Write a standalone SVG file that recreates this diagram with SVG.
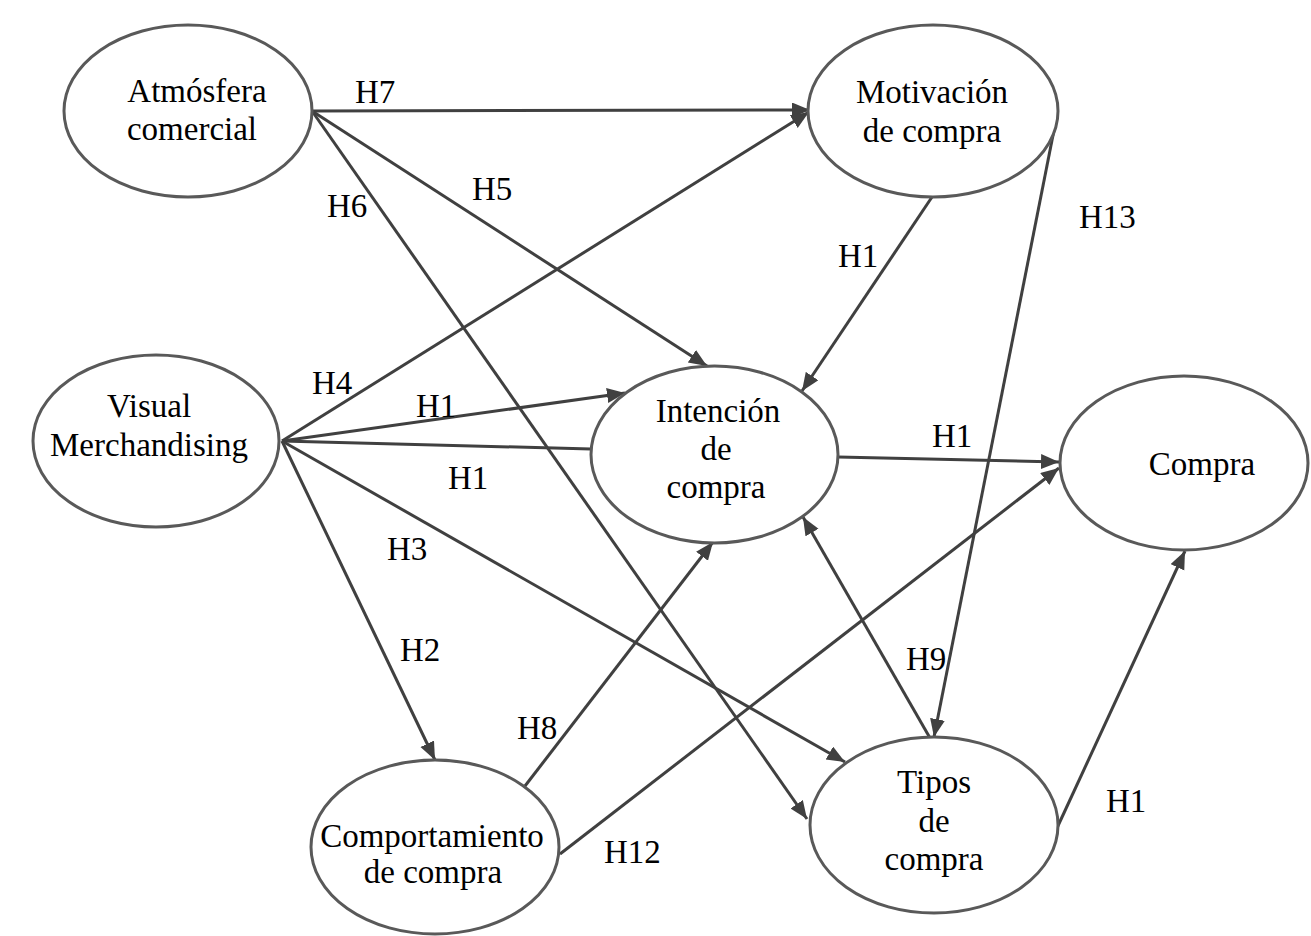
<svg xmlns="http://www.w3.org/2000/svg" width="1311" height="936" viewBox="0 0 1311 936">
<style>
.node ellipse{fill:#fff;stroke:#595959;stroke-width:3}
.node text,.lbl{font-family:"Liberation Serif","Times New Roman",serif;font-size:33px;fill:#000;text-anchor:middle}
.lbl{text-anchor:start}
.edges line{stroke:#404040;stroke-width:3;fill:none}
.arr{marker-end:url(#ah)}
</style>
<defs>
<marker id="ah" markerUnits="userSpaceOnUse" markerWidth="20" markerHeight="16" refX="18" refY="7.5" orient="auto">
<path d="M0,0 L18,7.5 L0,15 z" fill="#404040"/>
</marker>
</defs>
<rect width="1311" height="936" fill="#fff"/>
<g class="edges">
<line class="arr" x1="312" y1="111" x2="810" y2="110"/>
<line class="arr" x1="312" y1="111" x2="807" y2="819"/>
<line class="arr" x1="312" y1="111" x2="707" y2="366"/>
<line class="arr" x1="282" y1="441" x2="809" y2="112"/>
<line class="arr" x1="282" y1="441" x2="625" y2="393"/>
<line x1="282" y1="441" x2="591" y2="449"/>
<line class="arr" x1="282" y1="441" x2="845" y2="762"/>
<line class="arr" x1="282" y1="441" x2="435" y2="760"/>
<line class="arr" x1="932" y1="197" x2="802" y2="391"/>
<line class="arr" x1="1057" y1="115" x2="934" y2="737"/>
<line class="arr" x1="838" y1="457" x2="1059" y2="462"/>
<line class="arr" x1="560" y1="854" x2="1059" y2="468"/>
<line class="arr" x1="525" y1="786" x2="713" y2="542"/>
<line class="arr" x1="930" y1="738" x2="803" y2="517"/>
<line class="arr" x1="1057" y1="828" x2="1185" y2="551"/>
</g>
<g id="atmosfera" class="node">
<ellipse cx="188" cy="111" rx="124" ry="86"/>
<text x="197" y="102">Atmósfera</text>
<text x="192" y="140">comercial</text>
</g>
<g id="motivacion" class="node">
<ellipse cx="933" cy="111" rx="125" ry="86"/>
<text x="932" y="103">Motivación</text>
<text x="932" y="142">de compra</text>
</g>
<g id="visual" class="node">
<ellipse cx="156" cy="441" rx="123" ry="86"/>
<text x="149" y="417">Visual</text>
<text x="149" y="456">Merchandising</text>
</g>
<g id="intencion" class="node">
<ellipse cx="714.5" cy="454.5" rx="123.5" ry="88.5"/>
<text x="718" y="422">Intención</text>
<text x="716" y="460">de</text>
<text x="716" y="498">compra</text>
</g>
<g id="compra" class="node">
<ellipse cx="1184" cy="463" rx="124" ry="87"/>
<text x="1202" y="475">Compra</text>
</g>
<g id="comportamiento" class="node">
<ellipse cx="435" cy="847" rx="124" ry="87"/>
<text x="432" y="847">Comportamiento</text>
<text x="433" y="883">de compra</text>
</g>
<g id="tipos" class="node">
<ellipse cx="934" cy="825" rx="124" ry="88"/>
<text x="934" y="793">Tipos</text>
<text x="934" y="832">de</text>
<text x="934" y="870">compra</text>
</g>
<g id="labels">
<text class="lbl" x="355" y="103">H7</text>
<text class="lbl" x="472" y="200">H5</text>
<text class="lbl" x="327" y="217">H6</text>
<text class="lbl" x="1079" y="228">H13</text>
<text class="lbl" x="838" y="267">H1</text>
<text class="lbl" x="312" y="394">H4</text>
<text class="lbl" x="416" y="417">H1</text>
<text class="lbl" x="932" y="447">H1</text>
<text class="lbl" x="448" y="489">H1</text>
<text class="lbl" x="387" y="560">H3</text>
<text class="lbl" x="400" y="661">H2</text>
<text class="lbl" x="906" y="670">H9</text>
<text class="lbl" x="517" y="739">H8</text>
<text class="lbl" x="1106" y="812">H1</text>
<text class="lbl" x="604" y="863">H12</text>
</g>
</svg>
